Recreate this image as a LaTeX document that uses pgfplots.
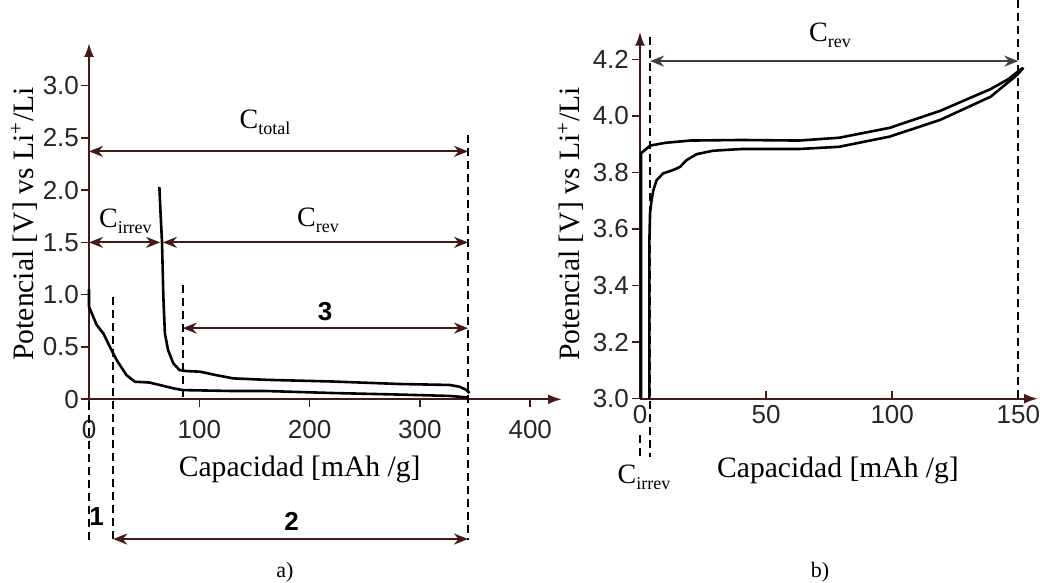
\documentclass[border=0pt]{standalone}
\usepackage{pgfplots}
\pgfplotsset{compat=1.18}
\usepackage{fontspec}
\setmainfont{Liberation Serif}
\newfontfamily\arial{Liberation Sans}
\usetikzlibrary{arrows.meta}
\definecolor{axc}{RGB}{70,25,25}
\newcommand\sub[1]{\raisebox{-0.45ex}{\fontsize{9}{9}\selectfont #1}}
\newcommand\lab{\fontsize{14.8}{16}\selectfont}
\newcommand\ylab{\fontsize{14.8}{16}\selectfont}
\newcommand\cfont{\fontsize{14}{15}\selectfont}
\tikzset{
 dimarr/.style={axc, line width=1.1pt, {Stealth[length=7pt,width=5.5pt]}-{Stealth[length=7pt,width=5.5pt]}},
 dsh/.style={black, line width=1pt, dash pattern=on 4pt off 2.5pt},
 crv/.style={black, line width=1.3pt, line join=round},
}
\begin{document}
\begin{tikzpicture}
\path[use as bounding box] (0,0) rectangle (520pt,291.5pt);
% ---------------- a) ----------------
\begin{axis}[
 at={(44.5pt,91.85pt)}, anchor=south west,
 scale only axis, width=236.5pt, height=178.15pt,
 xmin=0, xmax=428.8, ymin=0, ymax=3.406,
 axis lines=left, enlargelimits=false, clip=false,
 axis line style={axc, line width=1.1pt, -{Latex[length=7pt,width=5pt]}},
 xtick={0,100,200,300,400}, xticklabels={0,100,200,300,400},
 ytick={0,0.5,1,1.5,2,2.5,3}, yticklabels={0,0.5,1.0,1.5,2.0,2.5,3.0},
 tick style={axc, line width=0.8pt}, major tick length=4pt, tick align=outside,
 ticklabel style={font=\arial\fontsize{13}{13}\selectfont, text=black!85},
 xticklabel style={yshift=-3pt},
 yticklabel style={xshift=2.5pt},
]
% first discharge
\addplot[crv] coordinates {
 (0,1.05) (0,0.885) (7,0.71) (13,0.63) (19,0.50) (25,0.376) (34,0.23) (41.6,0.168)
 (55,0.16) (76.4,0.105) (85,0.088) (130.8,0.079) (161,0.079) (221,0.06) (282,0.045)
 (327,0.032) (342,0.019) (344,0.015)};
% second curve
\addplot[crv] coordinates {
 (63.8,2.03) (65,1.75) (66.2,1.5) (67.4,0.98) (68.8,0.63) (71.7,0.47) (76.4,0.344)
 (82,0.28) (88,0.27) (100.6,0.264) (115.7,0.23) (130.8,0.20) (161,0.186) (221,0.17)
 (282,0.146) (327,0.137) (336,0.12) (342,0.09) (345,0.06)};
% dashed guides
\draw[dsh] (axis cs:0,-0.03) -- (axis cs:0,-1.345);
\draw[dsh] (axis cs:22,0.98) -- (axis cs:22,-1.345);
\draw[dsh] (axis cs:85,1.09) -- (axis cs:85,0);
\draw[dsh] (axis cs:343.6,2.53) -- (axis cs:343.6,-1.345);
% dimension arrows
\draw[dimarr] (axis cs:0,2.37) -- (axis cs:343.6,2.37);
\draw[dimarr] (axis cs:0,1.5) -- (axis cs:64.5,1.5);
\draw[dimarr] (axis cs:67,1.5) -- (axis cs:343.6,1.5);
\draw[dimarr] (axis cs:85,0.68) -- (axis cs:343.6,0.68);
\draw[dimarr] (axis cs:22,-1.336) -- (axis cs:343.6,-1.336);
% texts
\node[font=\cfont] at (axis cs:159.6,2.65) {C\sub{total}};
\node[font=\cfont] at (axis cs:33,1.70) {C\sub{irrev}};
\node[font=\cfont] at (axis cs:207.6,1.71) {C\sub{rev}};
\node[font=\arial\bfseries\fontsize{13}{13}\selectfont] at (axis cs:214,0.84) {3};
\node[font=\arial\bfseries\fontsize{13}{13}\selectfont] at (axis cs:183.7,-1.17) {2};
\node[font=\arial\bfseries\fontsize{13}{13}\selectfont] at (axis cs:7,-1.12) {1};
\node[font=\fontsize{11}{12}\selectfont] at (axis cs:177.7,-1.65) {a)};
\node[font=\lab] at (axis cs:191,-0.67) {Capacidad [mAh /g]};
\node[font=\ylab, rotate=90] at (axis cs:-59,1.676) {Potencial [V] vs Li\textsuperscript{+}/Li};
\end{axis}
% ---------------- b) ----------------
\begin{axis}[
 at={(320pt,92.15pt)}, anchor=south west,
 scale only axis, width=199pt, height=183.5pt,
 xmin=0, xmax=157.8, ymin=3.0, ymax=4.298,
 axis lines=left, enlargelimits=false, clip=false,
 axis line style={axc, line width=1.1pt, -{Latex[length=7pt,width=5pt]}},
 xtick={0,50,100,150}, xticklabels={0,50,100,150},
 ytick={3.0,3.2,3.4,3.6,3.8,4.0,4.2}, yticklabels={3.0,3.2,3.4,3.6,3.8,4.0,4.2},
 tick style={axc, line width=0.8pt}, major tick length=4pt,
 xtick align=inside, ytick align=outside,
 ticklabel style={font=\arial\fontsize{13}{13}\selectfont, text=black!85},
 yticklabel style={xshift=2pt},
]
% upper curve
\addplot[crv] coordinates {
 (0.4,3.0) (0.4,3.868) (4,3.895) (10,3.905) (20,3.913) (40,3.915) (63,3.913)
 (79,3.923) (99,3.958) (119,4.018) (139,4.095) (146,4.13) (151,4.165) (152,4.17)};
% lower curve
\addplot[crv] coordinates {
 (3.7,3.0) (3.7,3.55) (4.0,3.66) (4.6,3.702) (5.3,3.738) (6.6,3.773) (9.2,3.797)
 (13.2,3.809) (15.9,3.82) (18.5,3.844) (22.5,3.865) (29,3.877) (40,3.883) (63,3.883)
 (79,3.891) (99,3.927) (119,3.986) (139,4.068) (149.5,4.145) (152,4.17)};
% dashed guides
\draw[dsh] (axis cs:4,4.279) -- (axis cs:4,2.794);
\draw[dsh] (axis cs:0,2.87) -- (axis cs:0,2.794);
\draw[dsh] (axis cs:150,4.41) -- (axis cs:150,3.0);
% arrow
\draw[dimarr, black!75, line width=0.9pt] (axis cs:4,4.194) -- (axis cs:150,4.194);
% texts
\node[font=\cfont] at (axis cs:75.3,4.286) {C\sub{rev}};
\node[font=\cfont] at (axis cs:1.6,2.723) {C\sub{irrev}};
\node[font=\lab] at (axis cs:78.5,2.747) {Capacidad [mAh /g]};
\node[font=\ylab, rotate=90] at (axis cs:-27.4,3.618) {Potencial [V] vs Li\textsuperscript{+}/Li};
\node[font=\fontsize{11}{12}\selectfont] at (axis cs:71.4,2.388) {b)};
\end{axis}
\end{tikzpicture}
\end{document}
